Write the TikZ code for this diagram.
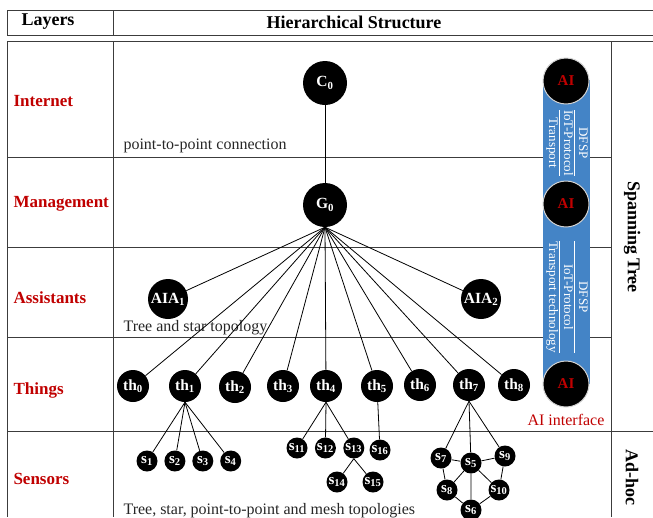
\documentclass[tikz,border=0pt]{standalone}
\usepackage{fontspec}
\setmainfont{Liberation Serif}
\usepackage{tikz}
\usetikzlibrary{automata,positioning}
\definecolor{layerred}{RGB}{192,0,0}
\definecolor{barblue}{RGB}{68,132,198}
\definecolor{gridgray}{RGB}{60,60,60}
\tikzset{
		grid/.style={gridgray,line width=0.9pt},
		layer/.style={anchor=west,text=layerred,font=\fontsize{17}{20}\selectfont\bfseries},
		head/.style={font=\fontsize{18}{21}\selectfont\bfseries},
		note/.style={anchor=west,text=black!85,font=\fontsize{16}{19}\selectfont},
		big/.style={state,minimum size=44pt},
		assist/.style={state,minimum size=40pt},
		thing/.style={state,minimum size=32pt},
		sensor/.style={state,minimum size=21pt,font=\fontsize{15}{17}\selectfont\bfseries},
		aiface/.style={state,minimum size=46pt,draw=gray!35,line width=1pt,text=layerred,font=\fontsize{15}{17}\selectfont\bfseries},
		bartext/.style={rotate=-90,text=white,font=\fontsize{13}{14.5}\selectfont},
		}

\begin{document}
\begin{tikzpicture}[x=1pt,y=-1pt]
					\tikzstyle{every state}=[fill=black,draw=none,text=white,inner sep=0pt,font=\fontsize{15.5}{18}\selectfont\bfseries]
					\useasboundingbox (0,0) rectangle (653,517);
					%TABLE
					\draw[grid] (653,10) -- (7,10) -- (7,35) -- (653,35);
					\draw[grid] (113,10) -- (113,35);
					\draw[grid] (653,41) -- (7,41) -- (7,517);
					\draw[grid] (113,41) -- (113,517);
					\draw[grid] (611,41) -- (611,517);
					\foreach \y in {157,247,337}
						\draw[grid] (7,\y) -- (611,\y);
					\draw[grid] (7,431) -- (653,431);
					\node[head] (hlay) at (48,22) {Layers};
					\node[head] (hstr) at (354,22) {Hierarchical Structure};
					\node[head,rotate=-90] (span) at (632,237) {Spanning Tree};
					\node[head,rotate=-90] (adhoc) at (632,477) {Ad-hoc};
					%LAYERS
					\node[layer] (internet) at (10,101) {Internet};
					\node[layer] (manage) at (10,204) {Management};
					\node[layer] (assist) at (10,298) {Assistants};
					\node[layer] (things) at (10,390) {Things};
					\node[layer] (sensors) at (10,479) {Sensors};
					%NOTES
					\node[note] (ptp) at (120,146) {point-to-point connection};
					\node[note] (tst) at (120,328) {Tree and star topology};
					\node[note] (mesh) at (120,511) {Tree, star, point-to-point and mesh topologies};
					%AI BAR
					\fill[barblue] (543,80) rectangle (590,384);
					\node[bartext] (bar1) at (567,143) {\begin{tabular}{@{}c@{}}DFSP\\\hline IoT-Protocol\\\hline Transport\end{tabular}};
					\node[bartext] (bar2) at (567,297) {\begin{tabular}{@{}c@{}}DFSP\\\hline IoT-Protocol\\\hline Transport technology\end{tabular}};
					\node[aiface] (ai1) at (566,81) {AI};
					\node[aiface] (ai2) at (566,204) {AI};
					\node[aiface] (ai3) at (566,384) {AI};
					\node[text=layerred,font=\fontsize{16}{19}\selectfont] (aiint) at (566,420) {AI interface};
					%NODES for internet, management and assistants
					\node[big] (C0) at (325,83) {C\textsubscript{0}};
					\node[big] (G0) at (325,205) {G\textsubscript{0}};
					\node[assist] (AIA1) at (168,299) {AIA\textsubscript{1}};
					\node[assist] (AIA2) at (481,299) {AIA\textsubscript{2}};
					%NODES for things
					\node[thing] (th0) at (133,386) {th\textsubscript{0}};
					\node[thing] (th1) at (185,386) {th\textsubscript{1}};
					\node[thing] (th2) at (235,387) {th\textsubscript{2}};
					\node[thing] (th3) at (283,386) {th\textsubscript{3}};
					\node[thing] (th4) at (326,386) {th\textsubscript{4}};
					\node[thing] (th5) at (377,386) {th\textsubscript{5}};
					\node[thing] (th6) at (420,385) {th\textsubscript{6}};
					\node[thing] (th7) at (469,385) {th\textsubscript{7}};
					\node[thing] (th8) at (514,385) {th\textsubscript{8}};
					%NODES for sensors
					\node[sensor] (s1) at (147,461) {s\textsubscript{1}};
					\node[sensor] (s2) [right=6.5pt of s1] {s\textsubscript{2}};
					\node[sensor] (s3) [right=6.5pt of s2] {s\textsubscript{3}};
					\node[sensor] (s4) [right=6.5pt of s3] {s\textsubscript{4}};
					\node[sensor] (s11) at (297,448) {s\textsubscript{11}};
					\node[sensor] (s12) [right=7pt of s11] {s\textsubscript{12}};
					\node[sensor] (s13) [right=7pt of s12] {s\textsubscript{13}};
					\node[sensor] (s14) at (337,482) {s\textsubscript{14}};
					\node[sensor] (s15) at (373,482) {s\textsubscript{15}};
					\node[sensor] (s16) at (380,450) {s\textsubscript{16}};
					\node[sensor] (s7) at (441,458) {s\textsubscript{7}};
					\node[sensor] (s5) at (471,463) {s\textsubscript{5}};
					\node[sensor] (s9) at (505,456) {s\textsubscript{9}};
					\node[sensor] (s8) at (447,490) {s\textsubscript{8}};
					\node[sensor] (s10) at (499,490) {s\textsubscript{10}};
					\node[sensor] (s6) at (471,510) {s\textsubscript{6}};
					%PATHS
					\begin{scope}[line width=0.8pt]
					\draw (C0) -- (G0);
					\foreach \t in {AIA1,AIA2,th0,th1,th2,th3,th4,th5,th6,th7,th8}
						\draw (G0.south) -- (\t);
					\foreach \t in {s1,s2,s3,s4}
						\draw (th1.south) -- (\t);
					\foreach \t in {s11,s12,s13}
						\draw (th4.south) -- (\t);
					\draw (th5) -- (s16);
					\draw (s13.south) -- (s14) (s13.south) -- (s15);
					\foreach \t in {s7,s5,s9}
						\draw (th7.south) -- (\t);
					\draw (s7) -- (s5) -- (s9)
						(s7) -- (s8) -- (s6) -- (s10) -- (s9)
						(s5) -- (s8) (s5) -- (s10) (s5) -- (s6);
					\end{scope}
				\end{tikzpicture}
\end{document}
